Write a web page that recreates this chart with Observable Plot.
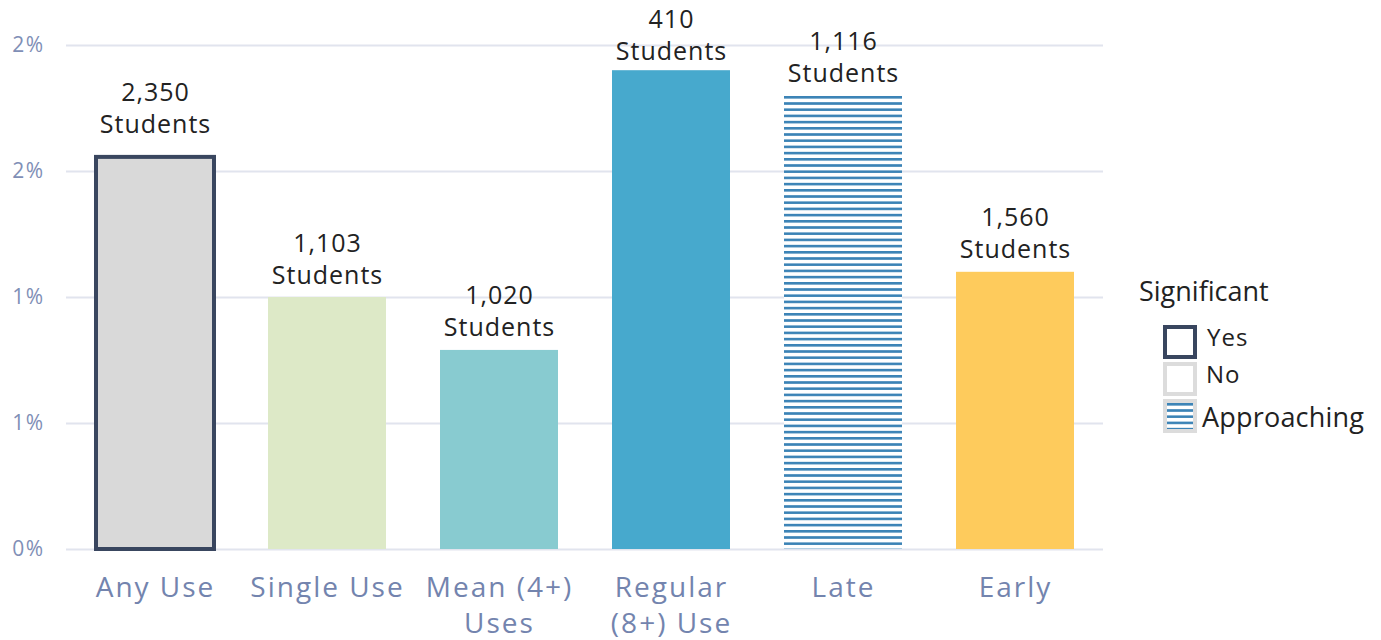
<!DOCTYPE html>
<html>
<head>
<meta charset="utf-8">
<script src="https://cdn.jsdelivr.net/npm/d3@7"></script>
<script src="https://cdn.jsdelivr.net/npm/@observablehq/plot@0.6"></script>
<style>
  html, body { margin: 0; padding: 0; background: #fff; }
  #wrap { position: relative; width: 1381px; height: 640px; font-family: "Open Sans", sans-serif; }
  #legend { position: absolute; left: 1130px; top: 270px; }
  .ytick text { letter-spacing: 1.5px; }
  .xtick text { letter-spacing: 2px; }
  .vlabel text { letter-spacing: 1px; }
</style>
</head>
<body>
<div id="wrap"><div id="chart"></div><svg id="legend" width="251" height="170"></svg></div>
<script>
const categories = ["Any Use", "Single Use", "Mean (4+)\nUses", "Regular\n(8+) Use", "Late", "Early"];
const values = [0.01556, 0.0100, 0.00790, 0.01900, 0.01798, 0.01100];
const students = ["2,350", "1,103", "1,020", "410", "1,116", "1,560"];
const significance = ["Yes", "No", "No", "No", "Approaching", "No"];
const fills = ["#d9d9d9", "#dde9c7", "#88cbd0", "#47a9cd", "url(#stripes)", "#fecb5c"];
const yTicks = [0, 0.005, 0.01, 0.015, 0.02];
const yTickLabels = ["0%", "1%", "1%", "2%", "2%"];
const legendTitle = "Significant";
const legendItems = ["Yes", "No", "Approaching"];

const data = categories.map((c, i) => ({
  category: c, value: values[i], label: students[i] + "\nStudents",
  sig: significance[i], fill: fills[i]
}));

const defs = () => {
  const d = d3.create("svg:defs");
  const p = d.append("pattern").attr("id", "stripes").attr("patternUnits", "userSpaceOnUse")
    .attr("width", 12).attr("height", 6.2).attr("y", 96);
  p.append("rect").attr("width", 12).attr("height", 6.2).attr("fill", "#fff");
  p.append("rect").attr("width", 12).attr("height", 2.6).attr("fill", "#3b83b6");
  return d.node();
};

const chart = Plot.plot({
  width: 1381,
  height: 640,
  marginLeft: 66,
  marginRight: 278,
  marginTop: 45,
  marginBottom: 91,
  style: { fontFamily: "Open Sans, sans-serif", background: "#fff" },
  x: { domain: categories, paddingInner: 0.316, paddingOuter: 0.158, label: null },
  y: { domain: [0, 0.02], label: null },
  marks: [
    defs,
    Plot.gridY(yTicks, { stroke: "#e1e4ee", strokeOpacity: 1, strokeWidth: 2 }),
    Plot.axisY(yTicks, {
      tickSize: 0, tickPadding: 22, fontSize: 21, fill: "#7f8fb6", className: "ytick",
      tickFormat: (d) => yTickLabels[yTicks.indexOf(d)], label: null
    }),
    Plot.axisX({
      tickSize: 0, tickPadding: 22, fontSize: 28, fill: "#7384ae", className: "xtick",
      lineHeight: 1.29, label: null
    }),
    Plot.barY(data, {
      x: "category", y: "value", fill: (d) => d.fill,
      stroke: (d) => d.sig === "Yes" ? "#39465f" : "none",
      strokeWidth: 4, inset: 0
    }),
    Plot.text(data, Plot.filter((d) => d.sig !== "Yes", {
      x: "category", y: (d) => Math.min(d.value, 0.01885), text: "label", lineAnchor: "bottom", dy: -14,
      fontSize: 25, fill: "#222", lineHeight: 1.28, className: "vlabel"
    })),
    Plot.text(data, Plot.filter((d) => d.sig === "Yes", {
      x: "category", y: "value", text: "label", lineAnchor: "bottom", dy: -24,
      fontSize: 25, fill: "#222", lineHeight: 1.28, className: "vlabel"
    }))
  ]
});
document.getElementById("chart").appendChild(chart);

// legend
const leg = d3.select("#legend").style("font-family", "Open Sans, sans-serif");
const ldefs = leg.append("defs");
const lp = ldefs.append("pattern").attr("id", "lstripes").attr("patternUnits", "userSpaceOnUse")
  .attr("width", 12).attr("height", 6.2).attr("y", 133);
lp.append("rect").attr("width", 12).attr("height", 6.2).attr("fill", "#fff");
lp.append("rect").attr("width", 12).attr("height", 2.6).attr("fill", "#3b83b6");
leg.append("text").attr("x", 9).attr("y", 31).attr("font-size", 27).attr("fill", "#222").text(legendTitle);
const boxY = [57, 94, 131];
const textY = [76, 113, 157];
const textX = [77, 76, 72];
const textSize = [24, 24, 27];
legendItems.forEach((name, i) => {
  leg.append("rect").attr("x", 35).attr("y", boxY[i]).attr("width", 30).attr("height", 30)
    .attr("fill", name === "Approaching" ? "url(#lstripes)" : "#fff")
    .attr("stroke", name === "Yes" ? "#39465f" : "#dcdcdc").attr("stroke-width", 4);
  leg.append("text").attr("x", textX[i]).attr("y", textY[i]).attr("font-size", textSize[i])
    .attr("fill", "#222").style("letter-spacing", i === 2 ? "0.2px" : "1px").text(name);
});
</script>
</body>
</html>
